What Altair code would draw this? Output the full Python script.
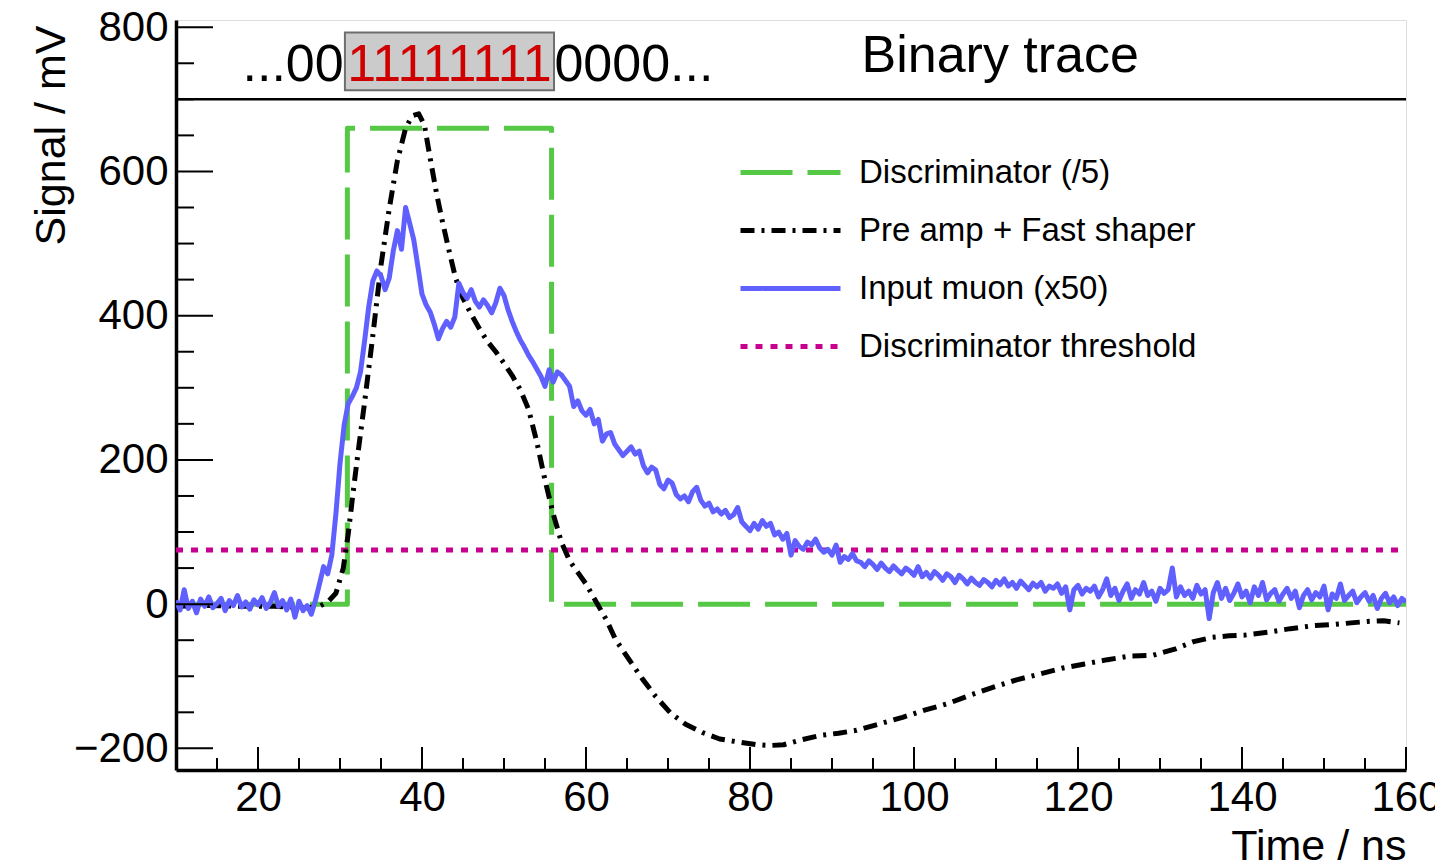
import altair as alt
import pandas as pd

FONT = "Liberation Sans, Arial, Helvetica, sans-serif"

# ---------------- data ----------------
# Input muon (x50): oscilloscope samples, first sample at 10 ns, one every 0.5 ns
muon_t0 = 10.0
muon_dt = 0.5
muon_mv = [
    5, -8, 20, -6, 4, -12, 7, -3, 10, -5,            # 10.0 - 14.5
    1, 8, -9, 5, -2, 12, -4, 3, -7, 6,               # 15.0 - 19.5
    -1, 9, -6, 2, 16, -3, 5, -8, 7, -18,             # 20.0 - 24.5
    4, -9, -2, -14, 5, 28, 52, 42, 68, 125,          # 25.0 - 29.5
    195, 248, 278, 288, 300, 322, 365, 412, 448, 462,  # 30.0 - 34.5
    455, 436, 452, 490, 518, 492, 550, 528, 505, 468,  # 35.0 - 39.5
    430, 415, 405, 388, 368, 382, 392, 384, 398, 445,  # 40.0 - 44.5
    432, 424, 436, 420, 412, 422, 414, 404, 418, 438,  # 45.0 - 49.5
    428, 408, 392, 378, 366, 356, 345, 336, 326, 316,  # 50.0 - 54.5
    302, 325, 308, 322, 318, 310, 302, 274, 282, 268,  # 55.0 - 59.5
    262, 270, 250, 256, 226, 236, 238, 222, 214, 206,  # 60.0 - 64.5
    212, 218, 208, 212, 192, 182, 190, 186, 166, 160,  # 65.0 - 69.5
    172, 168, 152, 146, 150, 142, 156, 162, 144, 136,  # 70.0 - 74.5
    140, 128, 132, 125, 130, 120, 124, 134, 114, 108,  # 75.0 - 79.5
    102, 112, 104, 116, 108, 112, 96, 100, 90, 98,     # 80.0 - 84.5
    68, 88, 80, 76, 86, 82, 90, 78, 72, 76,            # 85.0 - 89.5
    68, 82, 58, 66, 62, 70, 60, 58, 52, 60,            # 90.0 - 94.5
    55, 48, 57, 50, 45, 53, 47, 42, 50, 46,            # 95.0 - 99.5
    40, 52, 38, 44, 36, 45, 40, 33, 42, 38,            # 100.0 - 104.5
    30, 40, 35, 28, 36, 30, 26, 34, 30, 24,            # 105.0 - 109.5
    33, 27, 35, 25, 30, 22, 32, 26, 20, 29,            # 110.0 - 114.5
    24, 30, 18, 25, 22, 28, 15, 24, -8, 20,            # 115.0 - 119.5
    26, 14, 22, 18, 25, 10, 20, 35, 12, 22,            # 120.0 - 124.5
    5, 18, 28, 8, 20, 14, 30, 12, 18, 4,               # 125.0 - 129.5
    22, 15, 20, 50, 10, 24, 12, 18, 8, 26,             # 130.0 - 134.5
    14, 20, -20, 16, 30, 8, 22, 5, 15, 28,             # 135.0 - 139.5
    10, 18, 2, 24, 12, 30, 6, 15, 20, 4,               # 140.0 - 144.5
    14, 22, 8, 18, -5, 12, 20, 6, 16, 10,              # 145.0 - 149.5
    25, -8, 14, 8, 28, 5, 12, 18, 2, 10,               # 150.0 - 154.5
    16, 4, 12, -6, 8, 15, 2, 10, -2, 8,                # 155.0 - 159.5
    3,                                                 # 160.0
]

# Pre amp + Fast shaper
shaper_t = [10, 14, 18, 22, 26, 27.5, 28.5, 29.5, 30.4, 31.0, 31.6, 32.2, 33.0, 34.0,
            35.0, 36.0, 37.0, 38.0, 38.8, 39.6, 40.3, 41.0, 41.8, 42.5, 43.3, 44.1,
            45.0, 46.0, 47.0, 48.0, 49.0, 50.0, 51.0, 52.0, 53.0, 54.0, 55.0, 56.0,
            57.0, 58.0, 59.0, 60.0, 61.3, 62.5, 63.6, 65.2, 66.9, 68.5, 70.3, 72.2,
            74.2, 76.3, 78.5, 80.8, 82.5, 84.1, 86.3, 88.6, 90.8, 93.0, 95.8, 98.6,
            101.3, 104.1, 106.9, 109.7, 112.5, 115.3, 118.0, 120.8, 123.6, 126.4,
            129.1, 131.9, 134.1, 136.4, 138.4, 140.3, 143.1, 145.9, 148.6, 151.4,
            153.3, 155.3, 157.3, 159.2]
shaper_mv = [-3, -2, -3, -3, -5, -3, 3, 15, 50, 97, 155, 210, 280, 372,
             470, 548, 615, 660, 677, 680, 664, 618, 568, 530, 490, 452,
             424, 402, 382, 364, 350, 334, 317, 297, 270, 225, 172, 125,
             86, 60, 44, 28, 2, -22, -49, -76, -104, -128, -151, -167,
             -178, -187, -191, -195, -196, -195, -188, -182, -179, -175, -166, -157,
             -147, -138, -126, -115, -105, -97, -89, -83, -77, -72,
             -71, -62, -52, -46, -44, -43, -39, -34, -30, -28,
             -26, -24, -23, -26]

# Discriminator output (/5)
disc_t = [10, 30.9, 30.9, 55.8, 55.8, 160]
disc_mv = [0, 0, 660, 660, 0, 0]

# Discriminator threshold
thr_t = [10, 160]
thr_mv = [75, 75]

# Binary trace panel
panel_line_mv = 700
box_t = [30.6, 56.1]
box_mv = [712.6, 792.5]
bits_left = "...00"
bits_high = "11111111"
bits_right = "0000..."
panel_title = "Binary trace"

# Axis ticks
y_major = [-200, 0, 200, 400, 600, 800]
y_minor = [-150, -100, -50, 50, 100, 150, 250, 300, 350, 450, 500, 550, 650, 700, 750]
x_major = [20, 40, 60, 80, 100, 120, 140, 160]
x_minor = [15, 25, 30, 35, 45, 50, 55, 65, 70, 75, 85, 90, 95, 105, 110, 115,
           125, 130, 135, 145, 150, 155]

series_names = ["Discriminator (/5)", "Pre amp + Fast shaper",
                "Input muon (x50)", "Discriminator threshold"]
series_colors = ["#55c845", "#000000", "#6060ff", "#c8008f"]
series_dash = [[52, 15], [14, 7, 3, 7], [1, 0], [7, 8]]
series_width = [5, 5, 2.2, 6]

assert len(shaper_t) == len(shaper_mv)

# ---------------- build tables ----------------
def frame(ts, vs, name):
    return pd.DataFrame({"t": ts, "v": vs, "series": name, "i": range(len(ts))})

muon_t = [muon_t0 + k * muon_dt for k in range(len(muon_mv))]
df_disc = frame(disc_t, disc_mv, series_names[0])
df_shaper = frame(shaper_t, shaper_mv, series_names[1])
df_muon = frame(muon_t, muon_mv, series_names[2])
df_thr = frame(thr_t, thr_mv, series_names[3])

W, H = 1230, 750
X_DOM = [10, 160]
Y_DOM = [-230, 810]

xscale = alt.Scale(domain=X_DOM, nice=False, zero=False)
yscale = alt.Scale(domain=Y_DOM, nice=False, zero=False)

# legend symbol: a horizontal stroke, 100 px long (custom path scaled by sqrt(size)/2)
legend = alt.Legend(
    title=None, orient="none", legendX=587, legendY=125,
    symbolType="M-2,0H2", symbolSize=2500, labelFont=FONT, labelFontSize=33,
    labelColor="black", rowPadding=13, labelOffset=41, padding=0,
    labelLimit=0,
)

def line_layer(df):
    return alt.Chart(df).mark_line(clip=True, strokeJoin="round").encode(
        x=alt.X("t:Q", scale=xscale,
                axis=alt.Axis(values=x_major, ticks=False, grid=False, domainWidth=3.5,
                              domainColor="black", labelFont=FONT, labelFontSize=42,
                              labelColor="black", labelPadding=7, labelFlush=False,
                              title="Time / ns", titleFont=FONT, titleFontSize=43,
                              titleFontWeight="normal", titleColor="black",
                              titleX=W, titleY=89, titleAlign="right",
                              titleBaseline="alphabetic")),
        y=alt.Y("v:Q", scale=yscale,
                axis=alt.Axis(values=y_major, ticks=False, grid=False, domainWidth=3.5,
                              domainColor="black", labelFont=FONT, labelFontSize=42,
                              labelColor="black", labelPadding=8,
                              title="Signal / mV", titleFont=FONT, titleFontSize=43,
                              titleFontWeight="normal", titleColor="black",
                              titleAngle=270, titleX=-112, titleY=5,
                              titleAlign="right", titleBaseline="alphabetic")),
        color=alt.Color("series:N", scale=alt.Scale(domain=series_names, range=series_colors),
                        legend=legend),
        strokeDash=alt.StrokeDash("series:N", scale=alt.Scale(domain=series_names, range=series_dash),
                                  legend=legend),
        strokeWidth=alt.StrokeWidth("series:N", scale=alt.Scale(domain=series_names, range=series_width),
                                    legend=legend),
        order="i:Q",
    )

lines = [line_layer(df_disc), line_layer(df_thr), line_layer(df_shaper), line_layer(df_muon)]

# ticks drawn inward (ROOT style)
def yticks(vals, length):
    return alt.Chart(pd.DataFrame({"v": vals})).mark_rule(color="black", strokeWidth=2).encode(
        y=alt.Y("v:Q", scale=yscale), x=alt.value(0), x2=alt.value(length))

def xticks(vals, length):
    return alt.Chart(pd.DataFrame({"t": vals})).mark_rule(color="black", strokeWidth=2).encode(
        x=alt.X("t:Q", scale=xscale), y=alt.value(H), y2=alt.value(H - length))

ticks = [yticks(y_major, 37), yticks(y_minor, 18), xticks(x_major, 23), xticks(x_minor, 12)]

# binary trace panel
panel_line = alt.Chart(pd.DataFrame({"v": [panel_line_mv]})).mark_rule(
    color="black", strokeWidth=2.5).encode(y=alt.Y("v:Q", scale=yscale))

box = alt.Chart(pd.DataFrame({"t": [box_t[0]], "t2": [box_t[1]],
                              "v": [box_mv[0]], "v2": [box_mv[1]]})).mark_rect(
    fill="#cbcbcb", stroke="#6e6e6e", strokeWidth=2).encode(
    x=alt.X("t:Q", scale=xscale), x2="t2:Q", y=alt.Y("v:Q", scale=yscale), y2="v2:Q")

def label(txt, t, v, align, color, font=FONT, size=52):
    return alt.Chart(pd.DataFrame({"t": [t], "v": [v], "s": [txt]})).mark_text(
        align=align, baseline="alphabetic", font=font, fontSize=size, color=color).encode(
        x=alt.X("t:Q", scale=xscale), y=alt.Y("v:Q", scale=yscale), text="s:N")

texts = [
    label(bits_left, box_t[0] - 0.15, 726, "right", "black"),
    label(bits_high, (box_t[0] + box_t[1]) / 2, 726, "center", "#d00000",
          font="Liberation Sans Narrow, Arial Narrow, Liberation Sans, sans-serif"),
    label(bits_right, box_t[1] + 0.05, 726, "left", "black"),
    label(panel_title, 93.6, 738, "left", "black"),
]

chart = alt.layer(box, panel_line, *lines, *ticks, *texts).properties(
    width=W, height=H,
    autosize=alt.AutoSizeParams(type="none"),
    padding={"left": 176, "top": 20, "right": 29, "bottom": 95},
    background="white",
).configure_view(stroke="black", strokeWidth=2.5).configure(font=FONT)

chart.save("out.html", embed_options={"renderer": "svg", "actions": False})
